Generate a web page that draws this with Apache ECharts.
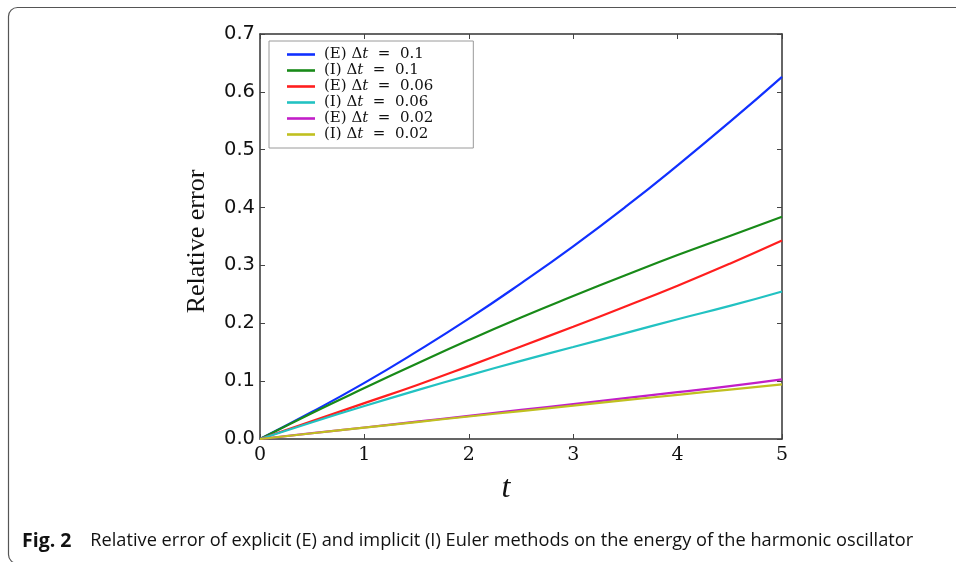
<!DOCTYPE html>
<html>
<head>
<meta charset="utf-8">
<script src="https://cdn.jsdelivr.net/npm/echarts@6/dist/echarts.min.js"></script>
<style>
html,body{margin:0;padding:0;background:#fff;}
#chart{width:956px;height:562px;}
</style>
</head>
<body>
<div id="chart"></div>
<script>
// ---- data ----
var tValues = [0, 0.5, 1, 1.5, 2, 2.5, 3, 3.5, 4, 4.5, 5];
var seriesNames = ['(E) Δt = 0.1', '(I) Δt = 0.1', '(E) Δt = 0.06', '(I) Δt = 0.06', '(E) Δt = 0.02', '(I) Δt = 0.02'];
var errE01  = [0, 0.047, 0.097, 0.151, 0.208, 0.269, 0.333, 0.401, 0.473, 0.548, 0.626];
var errI01  = [0, 0.045, 0.088, 0.130, 0.171, 0.210, 0.247, 0.283, 0.318, 0.351, 0.384];
var errE006 = [0, 0.031, 0.062, 0.093, 0.126, 0.160, 0.194, 0.229, 0.265, 0.303, 0.343];
var errI006 = [0, 0.029, 0.057, 0.084, 0.110, 0.135, 0.159, 0.183, 0.207, 0.230, 0.255];
var errE002 = [0, 0.0100, 0.0199, 0.0300, 0.0401, 0.0502, 0.0604, 0.0706, 0.0809, 0.0913, 0.1030];
var errI002 = [0, 0.0099, 0.0196, 0.0293, 0.0389, 0.0483, 0.0577, 0.0671, 0.0763, 0.0854, 0.0944];
var xTicks = [0, 1, 2, 3, 4, 5];
var yTicks = [0.0, 0.1, 0.2, 0.3, 0.4, 0.5, 0.6, 0.7];
var yAxisTitle = 'Relative error';
var xAxisTitle = 't';
var captionLabel = 'Fig. 2';
var captionText = 'Relative error of explicit (E) and implicit (I) Euler methods on the energy of the harmonic oscillator';

var allSeries = [errE01, errI01, errE006, errI006, errE002, errI002];
var colors = ['#1030ff', '#188a18', '#ff1e1e', '#22c2c2', '#c21ec8', '#c0c020'];

function pairs(ys) { return ys.map(function (y, i) { return [tValues[i], y]; }); }

var chart = echarts.init(document.getElementById('chart'));
var spine = { show: true, onZero: false, lineStyle: { color: '#333', width: 1.5 } };
var tick = { show: true, inside: true, length: 5, lineStyle: { color: '#444', width: 1 } };

var option = {
  backgroundColor: '#fff',
  animation: false,
  grid: { left: 260, right: 174, top: 34, bottom: 123, containLabel: false },
  legend: {
    orient: 'vertical',
    left: 269, top: 41,
    padding: [6, 40, 6, 18],
    icon: 'rect',
    itemWidth: 28, itemHeight: 2.6, itemGap: 1.0,
    backgroundColor: '#fff',
    borderColor: '#9a9a9a', borderWidth: 1, borderRadius: 0,
    data: seriesNames,
    formatter: function (name) {
      var parts = name.split('Δt');
      return '{r|' + parts[0] + 'Δ}{i|t}{r|' + parts[1].replace(' = ', '  =  ') + '}';
    },
    textStyle: {
      padding: [0, 0, 0, 4],
      rich: {
        r: { fontFamily: 'DejaVu Serif', fontSize: 15, color: '#111', lineHeight: 14.2 },
        i: { fontFamily: 'DejaVu Serif', fontStyle: 'italic', fontSize: 15, color: '#111', lineHeight: 14.2 }
      }
    }
  },
  xAxis: [{
    type: 'value', min: 0, max: 5, interval: 1, position: 'bottom',
    axisLine: spine, axisTick: tick, splitLine: { show: false },
    axisLabel: { margin: 7, fontFamily: 'DejaVu Serif', fontSize: 19, color: '#111',
      formatter: function (v) { return xTicks.indexOf(v) >= 0 ? String(v) : ''; } },
    name: xAxisTitle, nameLocation: 'middle', nameGap: 34,
    nameTextStyle: { fontFamily: 'Liberation Serif', fontStyle: 'italic', fontSize: 32, color: '#111',
      padding: [0, 30, 0, 0] }
  }, {
    type: 'value', min: 0, max: 5, interval: 1, position: 'top',
    axisLine: spine, axisTick: tick, axisLabel: { show: false }, splitLine: { show: false }
  }],
  yAxis: [{
    type: 'value', min: 0, max: 0.7, interval: 0.1, position: 'left',
    axisLine: spine, axisTick: tick, splitLine: { show: false },
    axisLabel: { margin: 5, fontFamily: 'DejaVu Sans', fontSize: 19.5, color: '#111',
      formatter: function (v) { return v.toFixed(1); } },
    name: yAxisTitle, nameLocation: 'middle', nameGap: 50, nameRotate: 90,
    nameTextStyle: { fontFamily: 'Liberation Serif', fontSize: 26, color: '#111', padding: [0, 10, 0, 0] }
  }, {
    type: 'value', min: 0, max: 0.7, interval: 0.1, position: 'right',
    axisLine: spine, axisTick: tick, axisLabel: { show: false }, splitLine: { show: false }
  }],
  series: allSeries.map(function (ys, i) {
    return {
      name: seriesNames[i], type: 'line', data: pairs(ys),
      xAxisIndex: 0, yAxisIndex: 0,
      symbol: 'none', smooth: true,
      lineStyle: { color: colors[i], width: 2.2 },
      itemStyle: { color: colors[i] },
      z: 2 + i
    };
  }),
  graphic: [{
    type: 'rect', silent: true, z: -1,
    shape: { x: 8.5, y: 7.5, width: 1000, height: 556, r: 9 },
    style: { fill: 'none', stroke: '#555', lineWidth: 1.2 }
  }, {
    type: 'text', left: 22, top: 531, silent: true,
    style: {
      text: '{b|' + captionLabel + '}{r|    ' + captionText + '}',
      rich: {
        b: { fontFamily: 'Open Sans', fontWeight: 'bold', fontSize: 19.5, fill: '#111' },
        r: { fontFamily: 'Open Sans', fontSize: 18.2, fill: '#111' }
      }
    }
  }]
};
chart.setOption(option);
</script>
</body>
</html>
